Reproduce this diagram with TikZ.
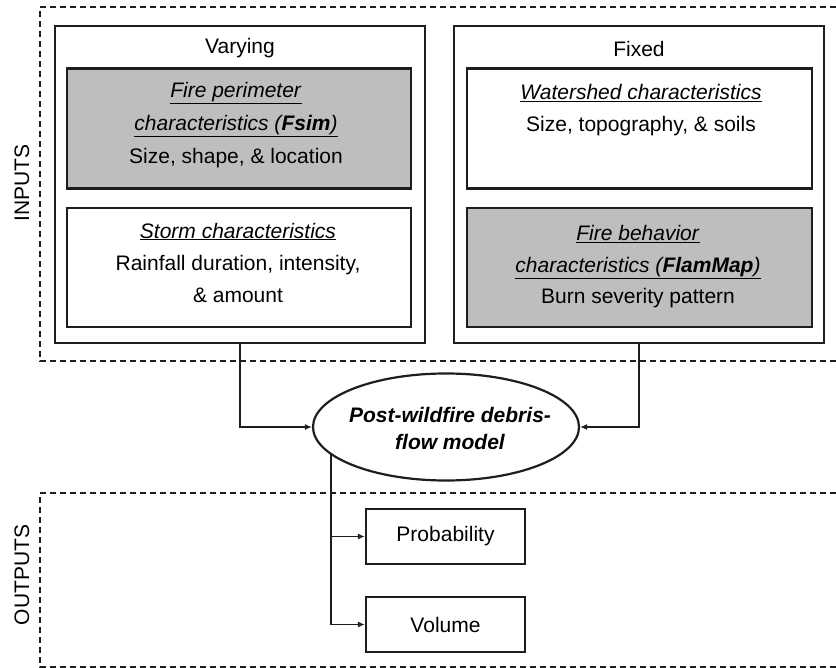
\documentclass[tikz,border=0pt]{standalone}
\usepackage{fontspec}
\setmainfont{Liberation Sans}
\usetikzlibrary{arrows.meta,shapes.geometric,calc}
\definecolor{boxgray}{RGB}{190,190,192}
\definecolor{linegray}{RGB}{30,30,30}
\tikzset{
  outerbox/.style={draw=linegray,line width=2pt,minimum width=370pt,minimum height=317pt,inner sep=0pt},
  innerbox/.style={draw=linegray,line width=2.4pt,minimum width=344pt,minimum height=120pt,inner sep=0pt},
  graybox/.style={innerbox,fill=boxgray},
  boxtext/.style={inner sep=0pt,align=center,font=\fontsize{21}{33}\selectfont},
  outbox/.style={draw=linegray,line width=2.2pt,minimum width=159pt,minimum height=55pt,inner sep=0pt,
    font=\fontsize{21}{25}\selectfont},
  modelnode/.style={ellipse,draw=linegray,line width=2.2pt,minimum width=266pt,minimum height=107pt,inner sep=0pt},
  modeltext/.style={inner sep=0pt,align=center,font=\fontsize{21}{27}\selectfont\bfseries\itshape},
  dashedbox/.style={draw=linegray,line width=2pt,dash pattern=on 6pt off 4pt},
  conn/.style={draw=linegray,line width=1.8pt},
  arr/.style={conn,-{Latex[length=7pt,width=6pt]}},
  plain/.style={font=\fontsize{21}{25}\selectfont,inner sep=0pt},
  sidelabel/.style={plain,rotate=90},
}
\begin{document}
\begin{tikzpicture}[x=1pt,y=-1pt]
\useasboundingbox (0,0) rectangle (836,668);
% dashed regions
\draw[dashedbox] (836,7) -| (40,361) -- (836,361);
\draw[dashedbox] (836,493) -| (40,667) -- (836,667);
\node[sidelabel] (inputs) at (22,183) {INPUTS};
\node[sidelabel] (outputs) at (22,575) {OUTPUTS};
% outer input boxes
\node[outerbox] (varying) at (240,184.5) {};
\node[outerbox] (fixed) at (639,184.5) {};
\node[plain] (varyingtitle) at (240,48) {Varying};
\node[plain] (fixedtitle) at (639,49) {Fixed};
% inner boxes
\node[graybox] (perim) at (239,128.5) {};
\node[boxtext] (perimtext) at (236,125) {\underline{\textit{Fire perimeter}}\\\underline{\textit{characteristics (\textbf{Fsim})}}\\Size, shape, \& location};
\node[innerbox,minimum height=119pt] (storm) at (239,267.5) {};
\node[boxtext,font=\fontsize{21}{32}\selectfont] (stormtext) at (238,262.5) {\underline{\textit{Storm characteristics}}\\Rainfall duration, intensity,\\\& amount};
\node[innerbox,minimum width=345pt] (watershed) at (639.5,128.5) {};
\node[boxtext,font=\fontsize{21}{32}\selectfont] (watertext) at (641,110) {\underline{\textit{Watershed characteristics}}\\Size, topography, \& soils};
\node[graybox,minimum width=345pt,minimum height=119pt] (behavior) at (639.5,267.5) {};
\node[boxtext,font=\fontsize{21}{31.5}\selectfont] (behaviortext) at (638,267) {\underline{\textit{Fire behavior}}\\\underline{\textit{characteristics (\textbf{FlamMap})}}\\Burn severity pattern};
% model
\node[modelnode] (model) at (446,427) {};
\node[modeltext] (modeltext) at (450,428) {Post-wildfire debris-\\flow model};
% outputs
\node[outbox] (prob) at (445.5,536.5) {Probability};
\node[outbox] (vol) at (445.5,624.5) {Volume};
% connectors
\draw[arr] (varying.south) |- (model.west);
\draw[arr] (fixed.south) |- (model.east);
\coordinate (trunk) at ($(model.center)+(-115,26.6)$);
\draw[arr] (trunk) |- (prob.west);
\draw[arr] (trunk) |- (vol.west);
\end{tikzpicture}
\end{document}
